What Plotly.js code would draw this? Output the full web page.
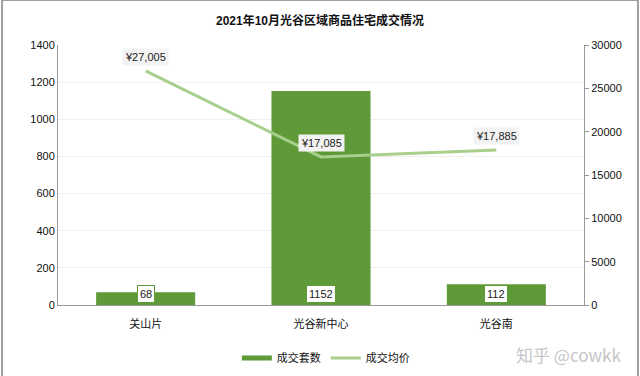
<!DOCTYPE html>
<html><head><meta charset="utf-8">
<script src="https://cdn.plot.ly/plotly-3.0.1.min.js"></script>
<style>
html,body{margin:0;padding:0;background:#fff;}
#chart{width:640px;height:376px;}
#frame{position:absolute;left:1px;top:0px;width:634px;height:380px;border:1px solid #a0a0a0;border-left-width:2px;border-right-width:2px;pointer-events:none;}
</style></head>
<body>
<div id="chart"></div>
<div id="frame"></div>
<script>
const categories = ['关山片', '光谷新中心', '光谷南'];
const deals = [68, 1152, 112];
const avgPrice = [27005, 17085, 17885];
const leftTicks = [0, 200, 400, 600, 800, 1000, 1200, 1400];
const rightTicks = [0, 5000, 10000, 15000, 20000, 25000, 30000];
const barName = '成交套数';
const lineName = '成交均价';
const titleText = '2021年10月光谷区域商品住宅成交情况';
const watermark = '知乎 @cowkk';

const barColor = '#5e9a37';
const lineColor = '#a8cf8c';
const FONT = '"Liberation Sans", Arial, "Noto Sans CJK SC", sans-serif';

const traces = [
  {type:'bar', x:categories, y:deals, name:barName, marker:{color:barColor}, width:0.565, showlegend:false, hoverinfo:'skip'},
  {type:'scatter', mode:'lines', x:[null], y:[null], name:barName, line:{color:barColor, width:5}, hoverinfo:'skip'},
  {type:'scatter', mode:'lines', x:categories, y:avgPrice, name:lineName, yaxis:'y2', line:{color:lineColor, width:3}, hoverinfo:'skip'}
];

const fmt = v => '¥' + v.toLocaleString('en-US');
const annotations = [];
categories.forEach((c, i) => {
  annotations.push({x:c, y:0, xref:'x', yref:'y', text:String(deals[i]), showarrow:false,
    yanchor:'bottom', yshift:2, bgcolor:'#ffffff', bordercolor:'#5e9a37', borderwidth:1, borderpad:2,
    font:{family:FONT, size:11, color:'#222'}});
  annotations.push({x:c, y:avgPrice[i], xref:'x', yref:'y2', text:fmt(avgPrice[i]), showarrow:false,
    yanchor:'middle', yshift:14, bgcolor:'#f3f3f3', borderpad:2,
    font:{family:FONT, size:11, color:'#222'}});
});
annotations.push({xref:'paper', yref:'paper', x:1.075, y:-0.19, xanchor:'right', yanchor:'middle',
  text:watermark, showarrow:false, font:{family:'"Noto Sans CJK SC", sans-serif', size:17, color:'#c6c6c6'}});

const layout = {
  width:640, height:376,
  margin:{l:58, r:56, t:45, b:71, autoexpand:false},
  paper_bgcolor:'#fff', plot_bgcolor:'#fff',
  font:{family:FONT, size:11, color:'#333'},
  title:{text:'<b>' + titleText + '</b>', x:0.5, xanchor:'center', y:0.945, yanchor:'middle',
    font:{family:FONT, size:12, color:'#111'}},
  xaxis:{type:'category', showline:true, linecolor:'#999', linewidth:1, ticks:'outside', ticklen:9,
    tickcolor:'rgba(0,0,0,0)', showgrid:false,
    tickfont:{family:FONT, size:11, color:'#111'}, fixedrange:true},
  yaxis:{range:[0,1400], tickvals:leftTicks, showline:true, linecolor:'#999', linewidth:1, ticks:'',
    gridcolor:'#f0f0f0', zeroline:false, tickfont:{family:FONT, size:11, color:'#111'}},
  yaxis2:{range:[0,30000], tickvals:rightTicks, ticktext:rightTicks.map(String), overlaying:'y', side:'right',
    showline:true, linecolor:'#999', linewidth:1, ticks:'outside', ticklen:4, tickcolor:'#999',
    showgrid:false, zeroline:false, tickfont:{family:FONT, size:11, color:'#111'}},
  legend:{orientation:'h', x:0.34, xanchor:'left', yref:'container', y:0.048, yanchor:'middle',
    font:{family:FONT, size:11, color:'#111'}, tracegroupgap:0},
  showlegend:true,
  bargap:0.435,
  annotations:annotations
};
Plotly.newPlot('chart', traces, layout, {displayModeBar:false, staticPlot:true});
</script>
</body></html>
